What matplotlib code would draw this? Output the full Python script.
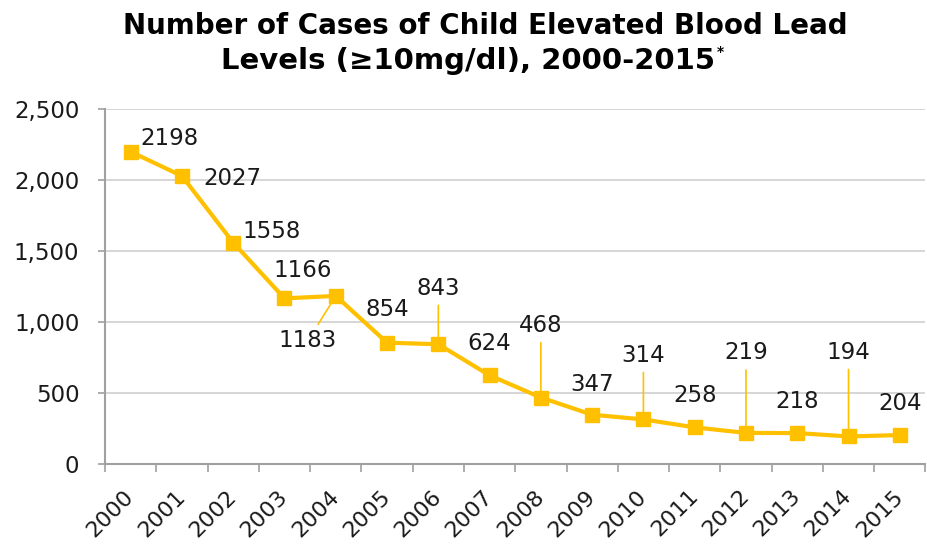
import matplotlib
matplotlib.use('Agg')
import matplotlib.pyplot as plt
import matplotlib.transforms as mtransforms

years = ['2000', '2001', '2002', '2003', '2004', '2005', '2006', '2007',
         '2008', '2009', '2010', '2011', '2012', '2013', '2014', '2015']
cases = [2198, 2027, 1558, 1166, 1183, 854, 843, 624,
         468, 347, 314, 258, 219, 218, 194, 204]

# label offsets in pixels (dx, dy) from each point, and whether a leader line is drawn
label_offsets = [(39, 13), (50, -2), (38, 11), (18, 28), (-28, -45), (0, 33),
                 (0, 56), (0, 32), (0, 72), (0, 30), (0, 64), (0, 32),
                 (0, 80), (0, 32), (0, 84), (0, 32)]
leaders = [False, False, False, False, True, False, True, False,
           True, False, True, False, True, False, True, False]

gold = '#FFC000'
txt = '#1A1A1A'

fig = plt.figure(figsize=(9.27, 5.44), dpi=100)
ax = fig.add_axes([0.1133, 0.147, 0.885, 0.653])

x = list(range(len(years)))
ax.plot(x, cases, color=gold, lw=3, marker='s', markersize=10, zorder=3)

for i, (v, (dx, dy), lead) in enumerate(zip(cases, label_offsets, leaders)):
    kw = {}
    if lead:
        kw['arrowprops'] = dict(arrowstyle='-', color=gold, lw=1.2,
                                shrinkA=2, shrinkB=0)
    ax.annotate(str(v), xy=(i, v), xytext=(dx, dy), textcoords='offset pixels',
                ha='center', va='center', fontsize=16.5, color=txt, zorder=4, **kw)

ax.set_xlim(-0.5, len(years) - 0.5)
ax.set_ylim(0, 2500)
ax.set_yticks(range(0, 2501, 500))
ax.set_yticklabels([f'{t:,}' for t in range(0, 2501, 500)], fontsize=16.5, color=txt)
ax.yaxis.grid(True, color='#D0D0D0', lw=1.2)
ax.set_axisbelow(True)

ax.set_xticks([i - 0.5 for i in range(len(years) + 1)])
ax.set_xticklabels([])
ax.set_xticks(x, minor=True)
ax.set_xticklabels(years, minor=True, rotation=45, ha='right',
                   rotation_mode='anchor', fontsize=16, color=txt)
ax.tick_params(axis='x', which='major', length=6, color='#A0A0A0', width=1.2)
ax.tick_params(axis='x', which='minor', length=0, pad=8)
ax.tick_params(axis='y', length=5, color='#A0A0A0', width=1.2, pad=13.5)

shift = mtransforms.ScaledTranslation(-7 / 100, -11 / 100, fig.dpi_scale_trans)
for lbl in ax.get_xticklabels(minor=True):
    lbl.set_transform(lbl.get_transform() + shift)

for s in ['top', 'right']:
    ax.spines[s].set_visible(False)
for s in ['left', 'bottom']:
    ax.spines[s].set_color('#A0A0A0')
    ax.spines[s].set_linewidth(1.5)

fig.text(0.523, 0.952, 'Number of Cases of Child Elevated Blood Lead',
         ha='center', va='center', fontsize=20, fontweight='bold', color='black')
t2 = fig.text(0.505, 0.888, 'Levels (≥10mg/dl), 2000-2015',
              ha='center', va='center', fontsize=21, fontweight='bold', color='black')
ax.annotate('*', xy=(1, 1), xycoords=t2, xytext=(2, 2), textcoords='offset pixels',
            ha='left', va='top', fontsize=10, fontweight='bold', color='black',
            annotation_clip=False)

fig.savefig('out.png', dpi=100)
